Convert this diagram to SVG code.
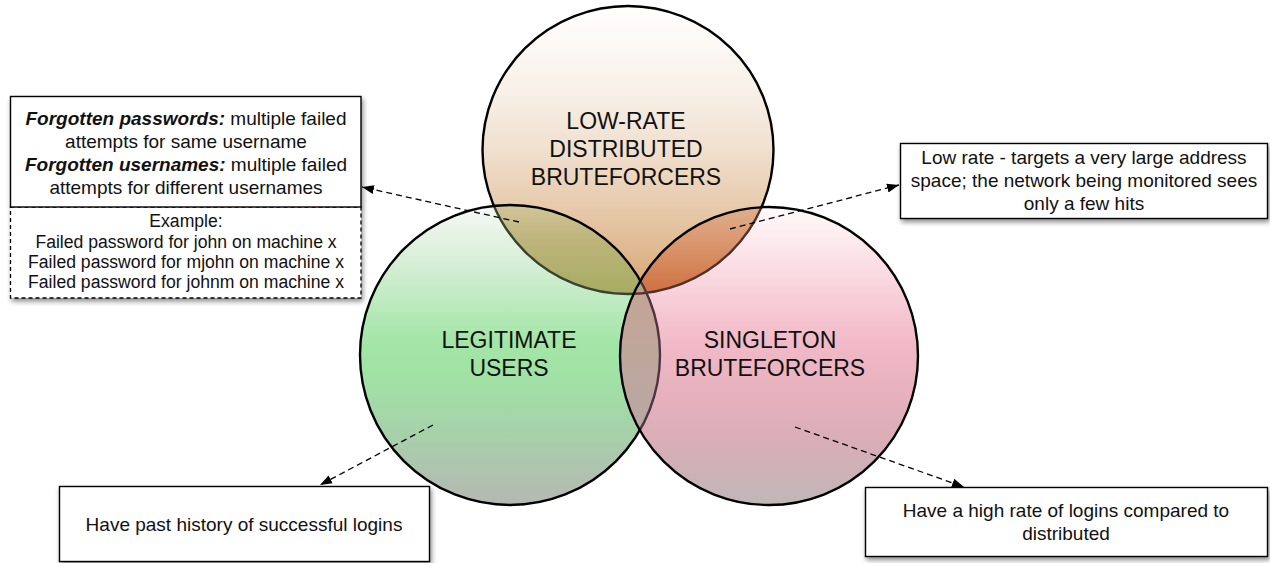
<svg xmlns="http://www.w3.org/2000/svg" width="1270" height="563" viewBox="0 0 1270 563">
  <style>
    .lbl { font-family: "Liberation Sans", Arial, Helvetica, sans-serif; fill: #111; text-anchor: middle; }
    .big { font-size: 23px; }
    .note { font-size: 19px; }
    .small { font-size: 17.6px; }
    .bi { font-weight: bold; font-style: italic; }
    .ring { fill: none; stroke: #000; stroke-width: 2.4; }
    .box { fill: #fff; stroke: #000; stroke-width: 1.4; }
    .dbox { fill: #fff; stroke: #000; stroke-width: 1.3; stroke-dasharray: 4 3; }
    .link { fill: none; stroke: #000; stroke-width: 1.3; stroke-dasharray: 6 4; marker-end: url(#arrow); }
  </style>
  <defs>
    <linearGradient id="tanGrad" gradientUnits="userSpaceOnUse" x1="0" y1="5" x2="0" y2="295">
      <stop offset="0" stop-color="#ffffff"/>
      <stop offset="0.3" stop-color="#f8f0e8"/>
      <stop offset="0.5" stop-color="#f0e0cf"/>
      <stop offset="0.75" stop-color="#e4c4a2"/>
      <stop offset="1" stop-color="#d6a673"/>
    </linearGradient>
    <linearGradient id="greenGrad" gradientUnits="userSpaceOnUse" x1="0" y1="205" x2="0" y2="505">
      <stop offset="0" stop-color="#f7f8f6"/>
      <stop offset="0.2" stop-color="#d5eed5"/>
      <stop offset="0.45" stop-color="#a4e6a8"/>
      <stop offset="0.55" stop-color="#a0e3a5"/>
      <stop offset="0.75" stop-color="#a6d2a9"/>
      <stop offset="1" stop-color="#b7b7b3"/>
    </linearGradient>
    <linearGradient id="pinkGrad" gradientUnits="userSpaceOnUse" x1="0" y1="207" x2="0" y2="505">
      <stop offset="0" stop-color="#fffafb"/>
      <stop offset="0.2" stop-color="#fbdde4"/>
      <stop offset="0.45" stop-color="#f2bac8"/>
      <stop offset="0.6" stop-color="#e9b2bf"/>
      <stop offset="0.8" stop-color="#d8adb6"/>
      <stop offset="1" stop-color="#bfb7b9"/>
    </linearGradient>
    <linearGradient id="oliveGrad" gradientUnits="userSpaceOnUse" x1="0" y1="205" x2="0" y2="295">
      <stop offset="0" stop-color="#d2c49a"/>
      <stop offset="0.4" stop-color="#bdb47a"/>
      <stop offset="1" stop-color="#a6ac62"/>
    </linearGradient>
    <linearGradient id="orangeGrad" gradientUnits="userSpaceOnUse" x1="0" y1="205" x2="0" y2="295">
      <stop offset="0" stop-color="#dfb08e"/>
      <stop offset="0.4" stop-color="#da9870"/>
      <stop offset="1" stop-color="#cf6f40"/>
    </linearGradient>
    <linearGradient id="mauveGrad" gradientUnits="userSpaceOnUse" x1="0" y1="235" x2="0" y2="475">
      <stop offset="0" stop-color="#c8a592"/>
      <stop offset="0.3" stop-color="#c3a598"/>
      <stop offset="1" stop-color="#b5a9a5"/>
    </linearGradient>
    <clipPath id="clipTop"><ellipse cx="628" cy="150" rx="145.5" ry="144"/></clipPath>
    <clipPath id="clipGreen"><circle cx="510" cy="355" r="150"/></clipPath>
    <clipPath id="clipPink"><circle cx="769" cy="356" r="149"/></clipPath>
    <filter id="shadow" x="-10%" y="-15%" width="125%" height="145%">
      <feDropShadow dx="1.5" dy="3" stdDeviation="2.5" flood-color="#000" flood-opacity="0.45"/>
    </filter>
    <marker id="arrow" markerWidth="13" markerHeight="10" refX="12" refY="5" orient="auto" markerUnits="userSpaceOnUse">
      <path d="M0,0.5 L12,5 L0,9.5 z" fill="#000"/>
    </marker>
  </defs>

  <rect width="1270" height="563" fill="#fff"/>

  <!-- Low-rate distributed set (bottom layer) -->
  <g id="set-lowrate">
    <ellipse cx="628" cy="150" rx="145.5" ry="144" fill="url(#tanGrad)"/>
    <ellipse class="ring" cx="628" cy="150" rx="145.5" ry="144"/>
    <text class="lbl big" x="626" y="129">LOW-RATE</text>
    <text class="lbl big" x="626" y="157">DISTRIBUTED</text>
    <text class="lbl big" x="626" y="185">BRUTEFORCERS</text>
  </g>

  <!-- Legitimate users set -->
  <g id="set-legit">
    <circle cx="510" cy="355" r="150" fill="url(#greenGrad)"/>
    <g clip-path="url(#clipTop)">
      <circle cx="510" cy="355" r="150" fill="url(#oliveGrad)"/>
    </g>
    <g clip-path="url(#clipGreen)">
      <ellipse cx="628" cy="150" rx="145.5" ry="144" fill="none" stroke="#38432f" stroke-width="2.4"/>
    </g>
    <circle class="ring" cx="510" cy="355" r="150"/>
    <text class="lbl big" x="509" y="348">LEGITIMATE</text>
    <text class="lbl big" x="509" y="376">USERS</text>
  </g>

  <!-- Singleton bruteforcers set (top layer) -->
  <g id="set-singleton">
    <circle cx="769" cy="356" r="149" fill="url(#pinkGrad)"/>
    <g clip-path="url(#clipTop)">
      <circle cx="769" cy="356" r="149" fill="url(#orangeGrad)"/>
    </g>
    <g clip-path="url(#clipGreen)">
      <circle cx="769" cy="356" r="149" fill="url(#mauveGrad)"/>
      <g clip-path="url(#clipTop)">
        <circle cx="769" cy="356" r="149" fill="#bba283"/>
      </g>
    </g>
    <g clip-path="url(#clipPink)">
      <ellipse cx="628" cy="150" rx="145.5" ry="144" fill="none" stroke="#52302a" stroke-width="2.4"/>
      <circle cx="510" cy="355" r="150" fill="none" stroke="#4e3440" stroke-width="2.4"/>
    </g>
    <circle class="ring" cx="769" cy="356" r="149"/>
    <text class="lbl big" x="770" y="348">SINGLETON</text>
    <text class="lbl big" x="770" y="376">BRUTEFORCERS</text>
  </g>

  <!-- Connectors -->
  <g id="connectors">
    <line class="link" x1="519" y1="222" x2="362" y2="187"/>
    <line class="link" x1="730" y1="229" x2="899" y2="185"/>
    <line class="link" x1="433" y1="425" x2="320" y2="485"/>
    <line class="link" x1="795" y1="427" x2="964" y2="487"/>
  </g>

  <!-- Note: forgotten credentials, with example log lines -->
  <g id="note-forgotten">
    <g filter="url(#shadow)">
      <rect class="dbox" x="10.5" y="207" width="350.5" height="91"/>
      <rect class="box" x="10.5" y="96.5" width="350.5" height="110.5"/>
    </g>
    <text class="lbl note" x="186" y="124.5"><tspan class="bi">Forgotten passwords:</tspan> multiple failed</text>
    <text class="lbl note" x="186" y="147.5">attempts for same username</text>
    <text class="lbl note" x="186" y="170.5"><tspan class="bi">Forgotten usernames:</tspan> multiple failed</text>
    <text class="lbl note" x="186" y="193.5">attempts for different usernames</text>
    <text class="lbl small" x="186" y="227">Example:</text>
    <text class="lbl small" x="186" y="247.5">Failed password for john on machine x</text>
    <text class="lbl small" x="186" y="268">Failed password for mjohn on machine x</text>
    <text class="lbl small" x="186" y="288">Failed password for johnm on machine x</text>
  </g>

  <!-- Note: low rate -->
  <g id="note-lowrate">
    <rect class="box" x="900.5" y="143.5" width="367" height="75" filter="url(#shadow)"/>
    <text class="lbl note" x="1084" y="164">Low rate - targets a very large address</text>
    <text class="lbl note" x="1084" y="187">space; the network being monitored sees</text>
    <text class="lbl note" x="1084" y="210">only a few hits</text>
  </g>

  <!-- Note: legitimate history -->
  <g id="note-history">
    <rect class="box" x="59.5" y="486.5" width="370" height="75" filter="url(#shadow)"/>
    <text class="lbl note" x="244" y="531">Have past history of successful logins</text>
  </g>

  <!-- Note: singleton rate -->
  <g id="note-highrate">
    <rect class="box" x="865.5" y="487.5" width="402" height="69" filter="url(#shadow)"/>
    <text class="lbl note" x="1066" y="517">Have a high rate of logins compared to</text>
    <text class="lbl note" x="1066" y="540">distributed</text>
  </g>
</svg>
